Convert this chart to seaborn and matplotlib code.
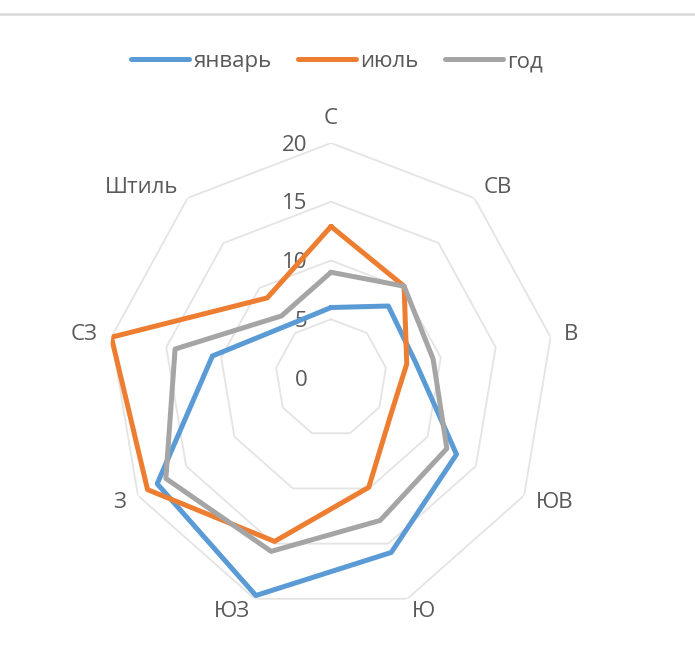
import numpy as np
import pandas as pd
import matplotlib
matplotlib.use("Agg")
import matplotlib.pyplot as plt
from matplotlib.lines import Line2D
import seaborn as sns

# ---- data ----
categories = ['С', 'СВ', 'В', 'ЮВ', 'Ю', 'ЮЗ', 'З', 'СЗ', 'Штиль']
series_names = ['январь', 'июль', 'год']
jan_values = [6.0, 8.0, 7.7, 13.0, 15.8, 19.7, 18.0, 10.8, 5.9]
jul_values = [12.9, 10.2, 6.9, 6.2, 9.9, 14.8, 19.0, 20.0, 8.9]
year_values = [9.0, 10.2, 9.3, 12.0, 12.9, 15.7, 17.1, 14.2, 6.9]
r_ticks = [0, 5, 10, 15, 20]
colors = ['#5B9BD5', '#ED7D31', '#A5A5A5']

sns.set_theme(style='white')
plt.rcParams['font.family'] = ['Open Sans', 'DejaVu Sans']
text_color = '#595959'

n = len(categories)
angles = np.linspace(0, 2 * np.pi, n, endpoint=False)
closed_angles = np.append(angles, 2 * np.pi)

rows = []
for name, vals in zip(series_names, [jan_values, jul_values, year_values]):
    vv = list(vals) + [vals[0]]
    for th, v in zip(closed_angles, vv):
        rows.append({'theta': th, 'value': v, 'series': name})
df = pd.DataFrame(rows)

fig = plt.figure(figsize=(6.95, 6.64), dpi=100)
ax = fig.add_axes([0.1554, 0.0768, 0.6417, 0.7078], projection='polar')
ax.set_aspect('auto')
ax.set_theta_zero_location('N')
ax.set_theta_direction(-1)

# polygon grid rings
for lvl in r_ticks[1:]:
    ax.plot(closed_angles, [lvl] * len(closed_angles), color='#E4E4E4',
            lw=1.3, zorder=1)

sns.lineplot(data=df, x='theta', y='value', hue='series', hue_order=series_names,
             palette=colors, sort=False, estimator=None, lw=3.6, ax=ax,
             legend=False, zorder=3)

ax.set_ylim(0, r_ticks[-1])
ax.grid(False)
ax.spines['polar'].set_visible(False)
ax.set_xticks([])
ax.set_yticks([])
ax.set_xlabel('')
ax.set_ylabel('')

# radial value labels
for v in r_ticks:
    ax.annotate(str(v), xy=(0, v), xytext=(-17, -1.5), textcoords='offset points',
                ha='right', va='center', fontsize=16, color=text_color, zorder=2)

# category labels
pad = 10
for th, lab in zip(angles, categories):
    s, c = np.sin(th), np.cos(th)
    ha = 'left' if s > 0.3 else ('right' if s < -0.3 else 'center')
    va = 'bottom' if c > 0.95 else ('top' if c < -0.95 else 'center')
    ax.annotate(lab, xy=(th, r_ticks[-1]), xytext=(pad * s, pad * c),
                textcoords='offset points', ha=ha, va=va, fontsize=16,
                color=text_color, annotation_clip=False)

# legend
handles = ax.get_lines()[len(r_ticks) - 1:len(r_ticks) - 1 + len(series_names)]
leg = fig.legend(handles, series_names, loc='center', bbox_to_anchor=(0.485, 0.907),
                 ncol=3, frameon=False, fontsize=16, handlelength=2.6,
                 handletextpad=0.2, columnspacing=1.2)
for t in leg.get_texts():
    t.set_color(text_color)

# chart area top border
fig.add_artist(Line2D([0, 1], [0.979, 0.979], transform=fig.transFigure,
                      color='#D9D9D9', lw=1.8))

fig.savefig('out.png', dpi=100, facecolor='white')
